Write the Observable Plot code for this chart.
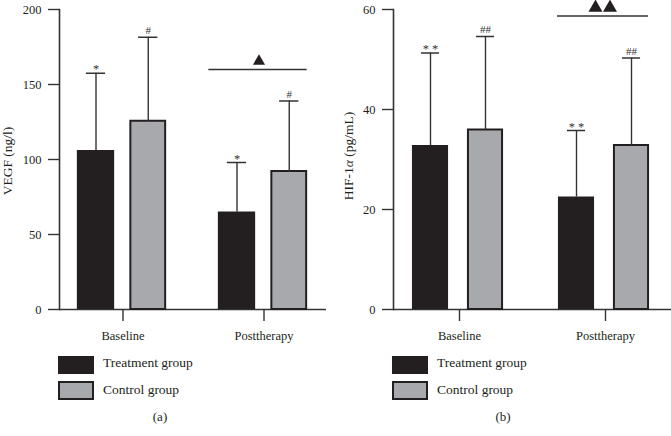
<!DOCTYPE html>
<html><head><meta charset="utf-8">
<script src="https://cdn.jsdelivr.net/npm/d3@7"></script>
<script src="https://cdn.jsdelivr.net/npm/@observablehq/plot@0.6"></script>
<style>
body{margin:0;background:#fff;font-family:"Liberation Serif","DejaVu Serif",serif;color:#231f20;}
#root{position:relative;width:671px;height:436px;overflow:hidden;}
.panel{position:absolute;top:0;}
.sw{position:absolute;width:36px;height:18px;box-sizing:border-box;}
.lt{position:absolute;font-size:13.5px;line-height:16px;white-space:nowrap;}
.cap{position:absolute;font-size:13px;transform:translateX(-50%);}
</style>
</head><body><div id="root"></div>
<script>
// ---- data ----
const categories = ["Baseline", "Posttherapy"];
const groups = ["Treatment group", "Control group"];
// (a) VEGF (ng/l)
const vegfTreatment = [106, 65];
const vegfTreatmentSD = [51.5, 33];
const vegfControl = [125.5, 92];
const vegfControlSD = [56, 47];
const vegfTicks = [0, 50, 100, 150, 200];
// (b) HIF-1α (pg/mL)
const hifTreatment = [32.8, 22.5];
const hifTreatmentSD = [18.5, 13.3];
const hifControl = [35.9, 32.8];
const hifControlSD = [18.7, 17.5];
const hifTicks = [0, 20, 40, 60];

const dark = "#231f20", gray = "#a7a9ac", axisCol = "#333333";

function panel(cfg) {
  const n = categories.length, pi = 0.3, po = cfg.po;
  const inner = cfg.width - cfg.marginLeft - cfg.marginRight;
  const step = inner / (n - pi + 2 * po), bw = step * (1 - pi);
  const ins = (a, b) => ({insetLeft: bw / 2 + a, insetRight: bw / 2 - b});
  const rowsT = categories.map((c, i) => ({cat: c, v: cfg.t[i], top: cfg.t[i] + cfg.tsd[i]}));
  const rowsC = categories.map((c, i) => ({cat: c, v: cfg.c[i], top: cfg.c[i] + cfg.csd[i]}));
  const tc = (cfg.tOff[0] + cfg.tOff[1]) / 2, cc = (cfg.cOff[0] + cfg.cOff[1]) / 2;
  const capW = 9.5;
  return Plot.plot({
    width: cfg.width, height: 345,
    marginLeft: cfg.marginLeft, marginRight: cfg.marginRight, marginTop: 9, marginBottom: 36,
    style: {fontFamily: '"Liberation Serif", serif', fontSize: "12.5px", color: dark, background: "transparent"},
    x: {domain: categories, paddingInner: pi, paddingOuter: po, label: null},
    y: {domain: cfg.domain, label: null},
    marks: [
      Plot.axisY({ticks: cfg.ticks, tickSize: 11, tickPadding: 7, stroke: axisCol, strokeWidth: 1.4, fontSize: 12.5, label: null}),
      Plot.axisX({tickSize: 12, tickPadding: 10, stroke: axisCol, strokeWidth: 1.4, fontSize: 12.5, label: null}),
      Plot.frame({anchor: "left", stroke: axisCol, strokeWidth: 1.6}),
      Plot.ruleY([0], {stroke: axisCol, strokeWidth: 1.6}),
      Plot.barY(rowsT, {x: "cat", y: "v", fill: dark, ...ins(...cfg.tOff)}),
      Plot.barY(rowsC, {x: "cat", y: "v", fill: gray, stroke: dark, strokeWidth: 2, ...ins(...cfg.cOff)}),
      Plot.ruleX(rowsT, {x: "cat", y1: "v", y2: "top", dx: tc, stroke: axisCol, strokeWidth: 1.4}),
      Plot.ruleX(rowsC, {x: "cat", y1: "v", y2: "top", dx: cc, stroke: axisCol, strokeWidth: 1.4}),
      Plot.tickY(rowsT, {x: "cat", y: "top", stroke: axisCol, strokeWidth: 1.5, ...ins(tc - capW, tc + capW)}),
      Plot.tickY(rowsC, {x: "cat", y: "top", stroke: axisCol, strokeWidth: 1.5, ...ins(cc - capW, cc + capW)}),
      Plot.text(rowsT, {x: "cat", y: "top", text: () => cfg.tMark, dx: tc, dy: -4, fontSize: 12.5, fill: "#333"}),
      Plot.text(rowsC, {x: "cat", y: "top", text: () => cfg.cMark, dx: cc, dy: -7, fontSize: 11, fill: "#333"}),
      Plot.ruleY([cfg.bracketY], {x1: () => categories[1], x2: () => categories[1], stroke: axisCol, strokeWidth: 1.3, ...ins(...cfg.bracketOff)}),
      ...cfg.triOff.map(d => Plot.dot([cfg.bracketY], {x: () => categories[1], y: v => v, dx: d, dy: -8.3, symbol: "triangle", r: cfg.triR, fill: dark, stroke: null}))
    ]
  });
}

const root = document.getElementById("root");
function place(svg, left) {
  const d = document.createElement("div");
  d.className = "panel"; d.style.left = left + "px";
  d.appendChild(svg); root.appendChild(d);
  return svg;
}

const a = place(panel({
  width: 335, marginLeft: 59, marginRight: 9, po: 0.0968, domain: [0, 200], ticks: vegfTicks,
  t: vegfTreatment, tsd: vegfTreatmentSD, c: vegfControl, csd: vegfControlSD,
  tOff: [-45.5, -8.5], cOff: [8, 42.5], tMark: "*", cMark: "#",
  bracketY: 160, bracketOff: [-55, 43], triOff: [-5], triR: 4.5
}), 0);
const b = place(panel({
  width: 336, marginLeft: 58, marginRight: 0, po: 0.0956, domain: [0, 60], ticks: hifTicks,
  t: hifTreatment, tsd: hifTreatmentSD, c: hifControl, csd: hifControlSD,
  tOff: [-47.5, -10.5], cOff: [8.5, 43.5], tMark: "* *", cMark: "##",
  bracketY: 58.7, bracketOff: [-48.5, 43.5], triOff: [-10, 4.5], triR: 5.2
}), 335);

// y-axis titles
function yTitle(svg, cx, cy, parts) {
  const t = d3.select(svg).append("text")
    .attr("transform", `translate(${cx},${cy}) rotate(-90)`)
    .attr("text-anchor", "middle").attr("dominant-baseline", "middle")
    .attr("font-size", 13.5).attr("fill", dark).attr("font-family", '"Liberation Serif", serif');
  parts.forEach(([s, it]) => t.append("tspan").text(s).attr("font-style", it ? "italic" : null));
}
yTitle(a, 9, 161, [["VEGF (ng/l)", false]]);
yTitle(b, 15, 156, [["HIF-1", false], ["α", true], [" (pg/mL)", false]]);

// legends and captions
function legend(left, capX) {
  const add = (cls, css, txt) => {
    const e = document.createElement("div"); e.className = cls;
    Object.assign(e.style, css); if (txt) e.textContent = txt; root.appendChild(e);
  };
  add("sw", {left: left + "px", top: "356px", background: dark});
  add("sw", {left: left + "px", top: "381px", height: "19px", background: gray, border: "2px solid " + dark});
  add("lt", {left: (left + 45) + "px", top: "355px"}, groups[0]);
  add("lt", {left: (left + 45) + "px", top: "382px"}, groups[1]);
  add("cap", {left: capX + "px", top: "409px"}, capX < 300 ? "(a)" : "(b)");
}
legend(58, 160);
legend(392, 503);
</script>
</body></html>
